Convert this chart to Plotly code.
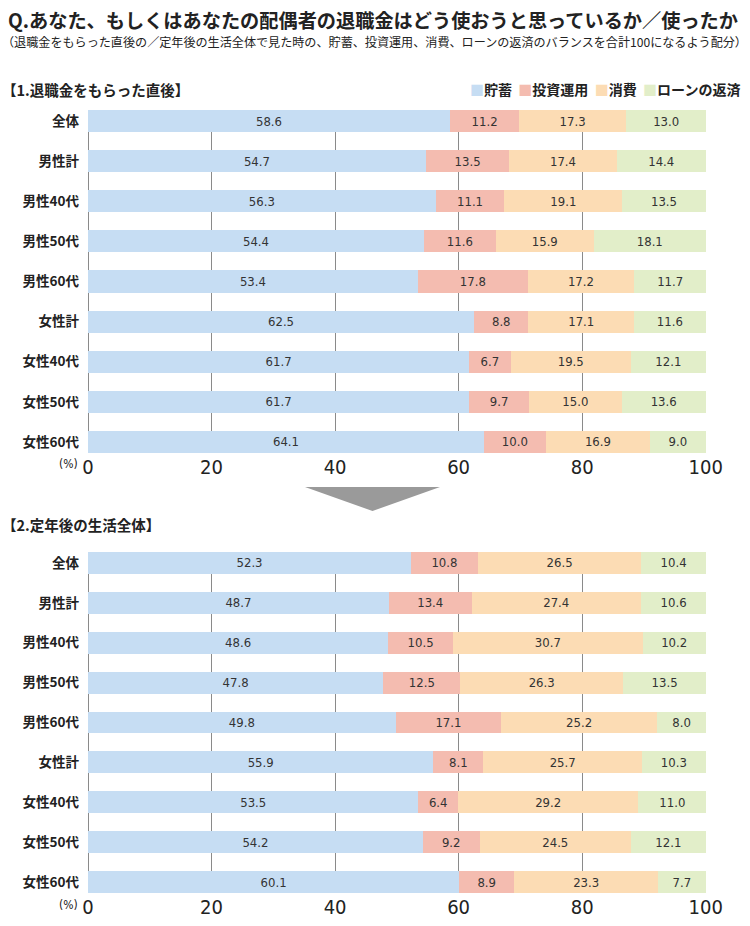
import plotly.graph_objects as go

categories = ["全体", "男性計", "男性40代", "男性50代", "男性60代",
              "女性計", "女性40代", "女性50代", "女性60代"]
series_names = ["貯蓄", "投資運用", "消費", "ローンの返済"]

# 1. 退職金をもらった直後
after_savings = [58.6, 54.7, 56.3, 54.4, 53.4, 62.5, 61.7, 61.7, 64.1]
after_invest = [11.2, 13.5, 11.1, 11.6, 17.8, 8.8, 6.7, 9.7, 10.0]
after_spend = [17.3, 17.4, 19.1, 15.9, 17.2, 17.1, 19.5, 15.0, 16.9]
after_loan = [13.0, 14.4, 13.5, 18.1, 11.7, 11.6, 12.1, 13.6, 9.0]

# 2. 定年後の生活全体
later_savings = [52.3, 48.7, 48.6, 47.8, 49.8, 55.9, 53.5, 54.2, 60.1]
later_invest = [10.8, 13.4, 10.5, 12.5, 17.1, 8.1, 6.4, 9.2, 8.9]
later_spend = [26.5, 27.4, 30.7, 26.3, 25.2, 25.7, 29.2, 24.5, 23.3]
later_loan = [10.4, 10.6, 10.2, 13.5, 8.0, 10.3, 11.0, 12.1, 7.7]

tick_vals = [0, 20, 40, 60, 80, 100]

colors = ["#c6ddf3", "#f4bcb0", "#fcdcb4", "#e2eec9"]
NUM_FONT = "DejaVu Sans Condensed, Liberation Sans, Noto Sans CJK JP"
JP_FONT = "Noto Sans CJK JP"

fig = go.Figure()

panels = [
    ("x", "y", [after_savings, after_invest, after_spend, after_loan]),
    ("x2", "y2", [later_savings, later_invest, later_spend, later_loan]),
]
for xa, ya, values in panels:
    for name, vals, col in zip(series_names, values, colors):
        fig.add_trace(go.Bar(
            x=vals, y=categories, orientation="h", name=name,
            xaxis=xa, yaxis=ya, showlegend=False,
            marker=dict(color=col, line=dict(width=0)),
            width=0.55,
            text=[f"{v:.1f}" for v in vals],
            textposition="inside", insidetextanchor="middle",
            textangle=0, constraintext="none",
            textfont=dict(family=NUM_FONT, size=13, color="#333333"),
            hoverinfo="skip",
        ))

xaxis_style = dict(
    range=[0, 100.05], tickvals=tick_vals, showgrid=True,
    gridcolor="#8a8a8a", gridwidth=1, zeroline=True, zerolinecolor="#8a8a8a",
    zerolinewidth=1, showline=False, ticks="", automargin=False,
    tickfont=dict(family=NUM_FONT, size=20, color="#222222"),
    domain=[88 / 750, 706 / 750],
)
yaxis_style = dict(
    type="category", showgrid=False, ticks="", ticklabelstandoff=8,
    automargin=False,
    tickfont=dict(family=JP_FONT, size=13.5, color="#222222", weight="bold"),
    range=[8.275, -0.275],
)

fig.update_layout(
    width=750, height=926,
    margin=dict(l=0, r=0, t=0, b=0),
    paper_bgcolor="white", plot_bgcolor="white",
    barmode="stack",
    font=dict(family=JP_FONT, color="#222222"),
    xaxis=dict(xaxis_style, anchor="y"),
    yaxis=dict(yaxis_style, domain=[1 - 453 / 926, 1 - 110 / 926], anchor="x"),
    xaxis2=dict(xaxis_style, anchor="y2"),
    yaxis2=dict(yaxis_style, domain=[1 - 893 / 926, 1 - 552 / 926], anchor="x2"),
    showlegend=False,
)

legend_text = "&nbsp;&nbsp;".join(
    f"<span style='color:{c}'>■</span>{n}" for n, c in zip(series_names, colors)
)

annotations = [
    dict(text="<b>Q.あなた、もしくはあなたの配偶者の退職金はどう使おうと思っているか／使ったか</b>",
         x=6 / 750, y=1 - 4 / 926, font=dict(size=19.2)),
    dict(text="（退職金をもらった直後の／定年後の生活全体で見た時の、貯蓄、投資運用、消費、ローンの返済のバランスを合計100になるよう配分）",
         x=0, y=1 - 31 / 926, font=dict(size=12.1)),
    dict(text="<b>【1.退職金をもらった直後】</b>", x=0, y=1 - 77 / 926, font=dict(size=14.5)),
    dict(text="<b>【2.定年後の生活全体】</b>", x=0, y=1 - 512 / 926, font=dict(size=14.5)),
    dict(text=f"<b>{legend_text}</b>", x=742 / 750, y=1 - 77 / 926, xanchor="right",
         font=dict(size=14)),
    dict(text="(%)", x=80 / 750, y=1 - 464 / 926, xanchor="right", yanchor="middle",
         font=dict(size=12, family=NUM_FONT)),
    dict(text="(%)", x=80 / 750, y=1 - 905 / 926, xanchor="right", yanchor="middle",
         font=dict(size=12, family=NUM_FONT)),
]
for a in annotations:
    a.setdefault("xanchor", "left")
    a.setdefault("yanchor", "top")
    fig.add_annotation(xref="paper", yref="paper", showarrow=False, **a)

# arrow between the panels
fig.add_shape(
    type="path", xref="paper", yref="paper",
    path=f"M {305/750} {1-487/926} L {440/750} {1-487/926} L {372.5/750} {1-511/926} Z",
    fillcolor="#9a9a9a", line=dict(width=0),
)

fig.write_html("out.html", config={"displayModeBar": False},
               post_script="document.body.style.margin='0';")
